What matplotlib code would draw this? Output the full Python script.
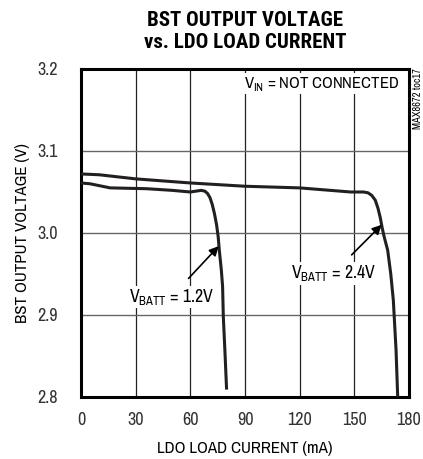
import numpy as np
import matplotlib
matplotlib.use("Agg")
import matplotlib.pyplot as plt
from matplotlib import font_manager

# curve data (LDO load current mA, BST output voltage V)
i_24 = [0, 10, 30, 60, 90, 120, 148, 155, 157.5, 159.5, 161.5, 163, 164.3, 165.3, 166.3,
        168.3, 170, 171.4, 172.9, 173.8]
v_24 = [3.072, 3.071, 3.066, 3.061, 3.057, 3.055, 3.050, 3.050, 3.049, 3.046, 3.040, 3.030,
        3.018, 3.006, 2.996, 2.979, 2.950, 2.918, 2.857, 2.800]

i_12 = [0, 5, 16, 36, 50, 60, 63, 66, 68, 69.5, 70.8, 72, 73.2, 74.4, 75.3, 75.9, 77, 77.7,
        78.1, 79, 79.9]
v_12 = [3.061, 3.060, 3.055, 3.054, 3.052, 3.050, 3.051, 3.052, 3.051, 3.048, 3.043, 3.035,
        3.024, 3.010, 2.995, 2.979, 2.955, 2.935, 2.898, 2.855, 2.809]

xticks = [0, 30, 60, 90, 120, 150, 180]
yticks = [2.8, 2.9, 3.0, 3.1, 3.2]

names = {f.name for f in font_manager.fontManager.ttflist}
narrow = "DejaVu Sans"
for cand in ["Liberation Sans Narrow", "Archivo Narrow", "Roboto Condensed", "Arimo Narrow",
             "PT Sans Narrow", "Open Sans Condensed", "Barlow Semi Condensed"]:
    if cand in names:
        narrow = cand
        break
heavy = narrow
for cand in ["Roboto Condensed", "Archivo Narrow", "Barlow Condensed", "Liberation Sans Narrow"]:
    if cand in names:
        heavy = cand
        break
plt.rcParams["font.family"] = [narrow, "DejaVu Sans"]
plt.rcParams["mathtext.fontset"] = "custom"
plt.rcParams["mathtext.rm"] = narrow

fig = plt.figure(figsize=(4.23, 4.59), dpi=100)
ax = fig.add_axes([0.1915, 0.1351, 0.7754, 0.7146])

ax.set_xlim(0, 180)
ax.set_ylim(2.8, 3.2)
ax.set_xticks(xticks)
ax.set_yticks(yticks)
ax.set_xticklabels([str(t) for t in xticks])
ax.set_yticklabels(["%.1f" % t for t in yticks])
ax.tick_params(length=0, labelsize=13, colors="#333333")
ax.tick_params(axis="x", pad=11)
ax.tick_params(axis="y", pad=17)

for t in xticks[1:-1]:
    ax.axvline(t, color="#222222", lw=0.9, zorder=1)
for t in yticks[1:-1]:
    ax.axhline(t, color="#666666", lw=1.0, zorder=1)

for s in ax.spines.values():
    s.set_linewidth(2.2)

ax.plot(i_24, v_24, color="#231f20", lw=2.2, zorder=3, solid_capstyle="butt")
ax.plot(i_12, v_12, color="#231f20", lw=2.2, zorder=3, solid_capstyle="butt")

box = dict(facecolor="white", edgecolor="none", pad=1)
ax.text(174.5, 3.182, r"V$_{\mathregular{IN}}$ = NOT CONNECTED", ha="right", va="center",
        fontsize=12, bbox=box, zorder=4)

ax.annotate(r"V$_{\mathregular{BATT}}$ = 1.2V", xy=(75.6, 2.984), xytext=(49.5, 2.922),
            ha="center", va="center", fontsize=12.8, bbox=box, zorder=4,
            arrowprops=dict(arrowstyle="-|>", color="black", lw=1.2, mutation_scale=14,
                            shrinkA=7, shrinkB=0))
ax.annotate(r"V$_{\mathregular{BATT}}$ = 2.4V", xy=(165, 3.010), xytext=(138.5, 2.951),
            ha="center", va="center", fontsize=12.8, bbox=box, zorder=4,
            arrowprops=dict(arrowstyle="-|>", color="black", lw=1.2, mutation_scale=14,
                            shrinkA=7, shrinkB=0))

fig.text(0.988, 0.852, "MAX8672 toc17", rotation=90, ha="center", va="top", fontsize=7.5)

ax.set_xlabel("LDO LOAD CURRENT (mA)", fontsize=12.2, labelpad=9)
ax.set_ylabel("BST OUTPUT VOLTAGE (V)", fontsize=12.2, labelpad=5)

fig.text(0.58, 0.975, "BST OUTPUT VOLTAGE\nvs. LDO LOAD CURRENT", ha="center", va="top",
         fontsize=15, fontweight="heavy", linespacing=1.15, family=[heavy, "DejaVu Sans"])

fig.savefig("out.png", dpi=100)
